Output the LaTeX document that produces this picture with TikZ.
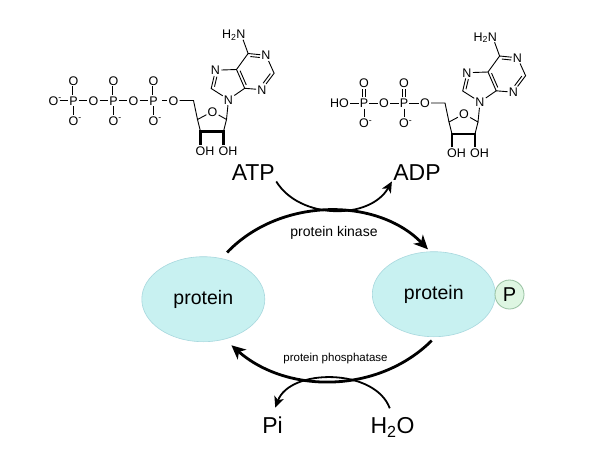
\documentclass[tikz,border=0pt]{standalone}
\usepackage{fontspec}
\setmainfont{Liberation Sans}
\usepackage{tikz}
\usetikzlibrary{shapes.geometric, arrows.meta, positioning, calc}

\definecolor{protfill}{RGB}{200,241,241}
\definecolor{protline}{RGB}{168,216,222}
\definecolor{grpfill}{RGB}{222,246,226}
\definecolor{grpline}{RGB}{150,192,160}

\tikzstyle{atom} = [font=\fontsize{12.5}{12.5}\selectfont, inner sep=0.8pt, text height=9pt, text depth=0pt]
\tikzstyle{dbond} = [double, double distance=2pt]
\tikzstyle{boldbond} = [line width=2.2pt]
\tikzstyle{biglabel} = [font=\fontsize{23}{23}\selectfont, inner sep=1pt, anchor=base]
\tikzstyle{enzyme} = [font=\fontsize{14}{14}\selectfont, inner sep=1pt]
\tikzstyle{protein} = [ellipse, fill=protfill, draw=protline, line width=0.6pt, minimum width=123pt, minimum height=85pt, inner sep=0pt, font=\fontsize{19.5}{19.5}\selectfont]
\tikzstyle{pcirc} = [circle, fill=grpfill, draw=grpline, line width=0.8pt, minimum size=29pt, inner sep=0pt, font=\fontsize{20}{20}\selectfont]
\tikzstyle{bigarrow} = [line width=2.8pt, -{Stealth[length=14pt,width=13pt,inset=4pt]}]
\tikzstyle{smallarrow} = [line width=1.8pt, -{Stealth[length=11pt,width=10pt,inset=3pt]}]

% inner line of a ring double bond, on the right of #1 -> #2
\newcommand{\dbl}[4]{\draw[shorten <=#3, shorten >=#4] ($(#1)!2.8pt!-90:(#2)$) -- ($(#2)!2.8pt!90:(#1)$);}

% phosphate group: P with =O above and O- below
\newcommand{\phos}[2]{%
  \node[atom] (#1) at (#2,1) {P};
  \node[atom] (#1up) at (#2,-19) {O};
  \node[atom] (#1dn) at (#2,21) {O\rlap{\textsuperscript{-}}};
  \draw[dbond] (#1) -- (#1up);
  \draw (#1) -- (#1dn);
}

% adenosine, N9 at the origin
\newcommand{\adenosine}{%
  % adenine
  \node[atom] (N9) at (0,0) {N};
  \coordinate (C8) at (-17.3,-11);
  \node[atom] (N7) at (-13,-29.3) {N};
  \coordinate (C5) at (8,-30);
  \coordinate (C4) at (16.2,-11.2);
  \coordinate (C6) at (19.6,-46);
  \node[atom] (N1) at (37.5,-44.2) {N};
  \coordinate (C2) at (45.6,-26.3);
  \node[atom] (N3) at (33.3,-9.8) {N};
  \node[atom] (N6) at (12.5,-65.5) {\llap{H\textsubscript{2}}N};
  \draw (N9) -- (C8) -- (N7) -- (C5) -- (C4) -- (N9);
  \draw (C5) -- (C6) -- (N1) -- (C2) -- (N3) -- (C4);
  \draw (C6) -- (N6);
  \dbl{C8}{N7}{2.5pt}{6pt}
  \dbl{C4}{C5}{2.5pt}{2.5pt}
  \dbl{C6}{N1}{2.5pt}{6pt}
  \dbl{C2}{N3}{2.5pt}{6pt}
  % ribose
  \coordinate (C1r) at (-2,20);
  \node[atom] (O4r) at (-16,12) {O};
  \coordinate (C4r) at (-31,20);
  \coordinate (C3r) at (-28,32);
  \coordinate (C2r) at (-5,32);
  \coordinate (C5r) at (-35,1);
  \node[atom] (O3r) at (-28,51) {O\rlap{H}};
  \node[atom] (O2r) at (-5,51) {O\rlap{H}};
  \node[atom] (O5r) at (-55,1) {O};
  \draw (N9) -- (C1r) -- (O4r) -- (C4r) -- (C3r);
  \draw (C2r) -- (C1r);
  \draw[boldbond] (O3r) -- (C3r) -- (C2r) -- (O2r);
  \draw (O5r) -- (C5r) -- (C4r);
}

\begin{document}
\begin{tikzpicture}[x=1pt, y=-1pt, line width=0.9pt]
    \useasboundingbox (0,0) rectangle (600,450);
    \fill[white] (0,0) rectangle (600,450);

    % ATP
    \begin{scope}[shift={(228.5,99.5)}, name prefix=atp-]
        \adenosine
        \phos{Pa}{-75}
        \phos{Pb}{-115}
        \phos{Pc}{-155}
        \node[atom] (Oab) at (-95,1) {O};
        \node[atom] (Obc) at (-135,1) {O};
        \node[atom] (Oend) at (-175,1) {O\rlap{\textsuperscript{-}}};
        \draw[shorten <=3pt] (Oend) -- (Pc) -- (Obc) -- (Pb) -- (Oab) -- (Pa) -- (O5r);
    \end{scope}

    % ADP
    \begin{scope}[shift={(480,102)}, name prefix=adp-]
        \adenosine
        \phos{Pa}{-76}
        \phos{Pb}{-116}
        \node[atom] (Oab) at (-96,1) {O};
        \node[atom] (HO) at (-136,1) {\llap{H}O};
        \draw (HO) -- (Pb) -- (Oab) -- (Pa) -- (O5r);
    \end{scope}

    % Proteins
    \node[protein] (protL) at (203.3,299.2) {protein};
    \node[protein] (protR) at (433.8,294.2) {protein};
    \node[pcirc] (grp) at (509.5,294.5) {P};

    % Labels
    \node[biglabel] (ATP) at (253.3,180) {ATP};
    \node[biglabel] (ADP) at (417,180) {ADP};
    \node[biglabel] (Pi) at (272.5,433.3) {Pi};
    \node[biglabel] (H2O) at (392.5,433.3) {H\textsubscript{2}O};
    \node[enzyme] (kinase) at (334,232.5) {protein kinase};
    \node[enzyme, font=\fontsize{11.5}{11.5}\selectfont] (ppase) at (335.5,358.5) {protein phosphatase};

    % Arrows
    \draw[bigarrow, shorten <=8pt, shorten >=3pt] (protL.66) .. controls (280,197) and (377,197) .. (protR.95);
    \draw[smallarrow] (ATP.south east) .. controls (300,220) and (370,220) .. (ADP.south west);
    \draw[bigarrow, shorten <=5pt, shorten >=9pt] (protR.-88) .. controls (378,394) and (287,394) .. (protL.-62);
    \draw[smallarrow, shorten <=8pt, shorten >=8pt] (H2O.north) .. controls (375,368) and (290,368) .. (Pi.north);
\end{tikzpicture}
\end{document}
